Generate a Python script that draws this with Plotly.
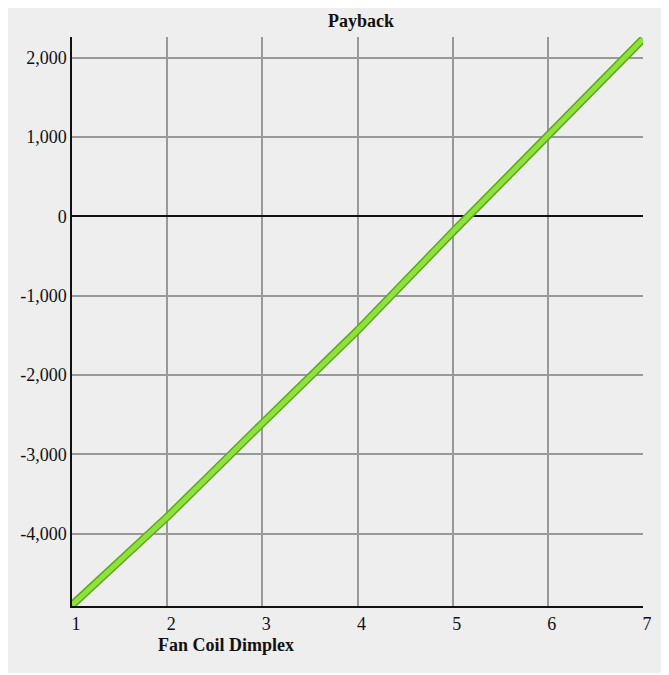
import plotly.graph_objects as go

# Data
years = [1, 2, 3, 4, 5, 6, 7]
payback = [-4902, -3791, -2610, -1440, -200, 1017, 2235]

y_tick_vals = [-4000, -3000, -2000, -1000, 0, 1000, 2000]
y_tick_text = ["-4,000", "-3,000", "-2,000", "-1,000", "0", "1,000", "2,000"]
x_tick_vals = [1, 2, 3, 4, 5, 6, 7]
x_tick_text = ["1", "2", "3", "4", "5", "6", "7"]

title_text = "Payback"
x_title_text = "Fan Coil Dimplex"

FONT = "Liberation Serif, Times New Roman, serif"
BG = "#EEEEEE"

fig = go.Figure()
fig.add_trace(go.Scatter(x=years, y=payback, mode="lines",
                         line=dict(color="#5FA817", width=8),
                         hoverinfo="skip", showlegend=False))
fig.add_trace(go.Scatter(x=years, y=payback, mode="lines",
                         line=dict(color="#8EE23F", width=5),
                         showlegend=False))

fig.add_annotation(text="<b>" + title_text + "</b>", xref="paper", yref="paper",
                   x=0.506, y=1.0, yshift=16, showarrow=False,
                   xanchor="center", yanchor="middle",
                   font=dict(family=FONT, size=18, color="#111111"))
fig.add_annotation(text="<b>" + x_title_text + "</b>", xref="paper", yref="paper",
                   x=0.27, y=0, yshift=-39, showarrow=False,
                   xanchor="center", yanchor="middle",
                   font=dict(family=FONT, size=18, color="#111111"))

fig.update_layout(
    width=656, height=665,
    margin=dict(l=58, r=17, t=29, b=67),
    paper_bgcolor=BG,
    plot_bgcolor=BG,
    font=dict(family=FONT, size=18, color="#111111"),
    showlegend=False,
)
fig.update_xaxes(range=[1, 7], tickvals=x_tick_vals, ticktext=x_tick_text,
                 showgrid=True, gridcolor="#999999", gridwidth=1.5,
                 showline=True, linecolor="#111111", linewidth=2,
                 zeroline=False, ticks="", ticklabelshift=4, ticklabelstandoff=0,
                 tickfont=dict(family=FONT, size=18, color="#111111"))
fig.update_yaxes(range=[-4914, 2260], tickvals=y_tick_vals, ticktext=y_tick_text,
                 showgrid=True, gridcolor="#999999", gridwidth=1.5,
                 showline=True, linecolor="#111111", linewidth=1.5,
                 zeroline=True, zerolinecolor="#111111", zerolinewidth=2,
                 ticks="", ticklabelstandoff=0,
                 tickfont=dict(family=FONT, size=18, color="#111111"))

fig.write_html("out.html")
